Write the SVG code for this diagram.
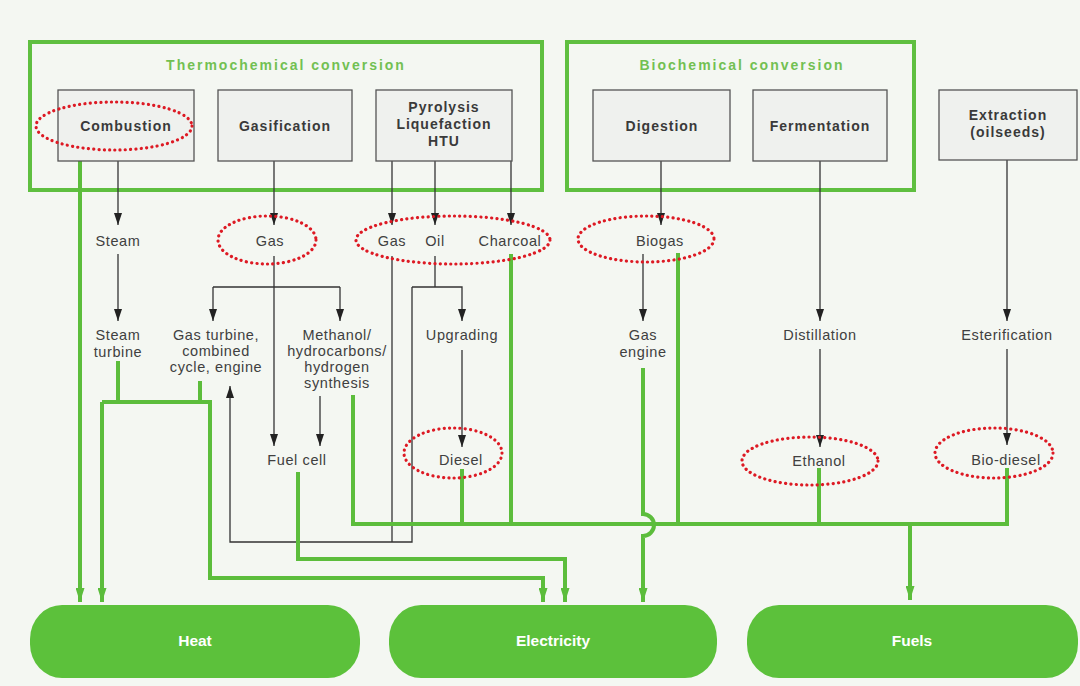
<svg xmlns="http://www.w3.org/2000/svg" width="1080" height="686" viewBox="0 0 1080 686">
<defs>
<marker id="ab" viewBox="0 0 12 8" refX="12" refY="4" markerWidth="12" markerHeight="8" markerUnits="userSpaceOnUse" orient="auto"><path d="M0,0 L12,4 L0,8 z" fill="#222"/></marker>
<marker id="ag" viewBox="0 0 14 9" refX="14" refY="4.5" markerWidth="14" markerHeight="9" markerUnits="userSpaceOnUse" orient="auto"><path d="M0,0 L14,4.5 L0,9 z" fill="#5cbd3c"/></marker>
<style>
.bg{fill:#f4f7f2}
.grp{fill:none;stroke:#5fbf40;stroke-width:4}
.ttl{font-family:"Liberation Sans",Arial,sans-serif;font-size:14px;font-weight:bold;fill:#72c052;letter-spacing:2px;text-anchor:middle}
.box{fill:#eff1ee;stroke:#555;stroke-width:1.3}
.bt{font-family:"Liberation Sans",Arial,sans-serif;font-size:14px;font-weight:bold;fill:#3a3a3a;letter-spacing:1px;text-anchor:middle}
.lb{font-family:"Liberation Sans",Arial,sans-serif;font-size:14.5px;fill:#404040;letter-spacing:0.6px;text-anchor:middle}
.k{fill:none;stroke:#333;stroke-width:1.3}
.ka{fill:none;stroke:#333;stroke-width:1.3;marker-end:url(#ab)}
.g{fill:none;stroke:#5cbd3c;stroke-width:4;stroke-linejoin:miter;stroke-linecap:square}
.ga{fill:none;stroke:#5cbd3c;stroke-width:4;stroke-linejoin:miter;marker-end:url(#ag)}
.ov{fill:none;stroke:#dd1a24;stroke-width:3.2;stroke-dasharray:0.1 5.2;stroke-linecap:round}
.pill{fill:#5cc13b}
.pt{font-family:"Liberation Sans",Arial,sans-serif;font-size:15.5px;font-weight:bold;fill:#ffffff;text-anchor:middle}
</style>
</defs>
<rect class="bg" x="0" y="0" width="1080" height="686"/>

<g id="thermochemical">
<rect class="grp" x="30" y="42" width="512" height="148"/>
<text class="ttl" x="286" y="70">Thermochemical conversion</text>
</g>
<g id="biochemical">
<rect class="grp" x="567" y="42" width="347" height="148"/>
<text class="ttl" x="742" y="70">Biochemical conversion</text>
</g>

<g id="connectors">
<path class="ka" d="M118,161 V225"/>
<path class="ka" d="M118,254 V321"/>
<path class="ka" d="M274,161 V225"/>
<path class="ka" d="M274,256 V446"/>
<path class="k" d="M213,287 H340"/>
<path class="ka" d="M213,287 V321"/>
<path class="ka" d="M340,287 V321"/>
<path class="ka" d="M320,396 V446"/>
<path class="ka" d="M392,161 V225"/>
<path class="ka" d="M435,161 V225"/>
<path class="ka" d="M511,161 V225"/>
<path class="k" d="M392,256 V542"/>
<path class="ka" d="M412,287 V542 H230 V386"/>
<path class="k" d="M435,256 V287"/>
<path class="ka" d="M412,287 H462 V321"/>
<path class="ka" d="M462,350 V447"/>
<path class="ka" d="M661,161 V225"/>
<path class="ka" d="M643,254 V321"/>
<path class="ka" d="M820,161 V321"/>
<path class="ka" d="M820,349 V447"/>
<path class="ka" d="M1007,160 V321"/>
<path class="ka" d="M1007,349 V445"/>
<path class="ga" d="M80,161 V602"/>
<path class="g" d="M118,363 V402"/>
<path class="g" d="M200,383 V402"/>
<path class="ga" d="M102,402 V602"/>
<path class="ga" d="M102,402 H210 V578 H543 V602"/>
<path class="ga" d="M298,472 V559 H565 V602"/>
<path class="g" d="M353,397 V524 H1007 V470"/>
<path class="g" d="M462,471 V524"/>
<path class="g" d="M511,256 V524"/>
<path class="g" d="M678,255 V524"/>
<path class="g" d="M819,470 V524"/>
<path class="ga" d="M910,524 V600"/>
<path class="ga" d="M643,368 V514 A11,11 0 0 1 643,536 V602"/>
</g>

<g id="combustion">
<rect class="box" x="58" y="90" width="136" height="71"/>
<text class="bt" x="126" y="131">Combustion</text>
</g>
<g id="gasification">
<rect class="box" x="218" y="90" width="134" height="71"/>
<text class="bt" x="285" y="131">Gasification</text>
</g>
<g id="pyrolysis">
<rect class="box" x="376" y="90" width="136" height="71"/>
<text class="bt" x="444" y="112">Pyrolysis</text>
<text class="bt" x="444" y="129">Liquefaction</text>
<text class="bt" x="444" y="146">HTU</text>
</g>
<g id="digestion">
<rect class="box" x="593" y="90" width="137" height="71"/>
<text class="bt" x="662" y="131">Digestion</text>
</g>
<g id="fermentation">
<rect class="box" x="753" y="90" width="134" height="71"/>
<text class="bt" x="820" y="131">Fermentation</text>
</g>
<g id="extraction">
<rect class="box" x="939" y="90" width="138" height="70"/>
<text class="bt" x="1008" y="120">Extraction</text>
<text class="bt" x="1008" y="137">(oilseeds)</text>
</g>

<g id="steam"><text class="lb" x="118" y="246">Steam</text></g>
<g id="gas1"><text class="lb" x="270" y="246">Gas</text></g>
<g id="gas2"><text class="lb" x="392" y="246">Gas</text></g>
<g id="oil"><text class="lb" x="435" y="246">Oil</text></g>
<g id="charcoal"><text class="lb" x="510" y="246">Charcoal</text></g>
<g id="biogas"><text class="lb" x="660" y="246">Biogas</text></g>

<g id="steam-turbine"><text class="lb" x="118" y="340">Steam</text><text class="lb" x="118" y="357">turbine</text></g>
<g id="gas-turbine"><text class="lb" x="216" y="340">Gas turbine,</text><text class="lb" x="216" y="356">combined</text><text class="lb" x="216" y="372">cycle, engine</text></g>
<g id="methanol"><text class="lb" x="337" y="340">Methanol/</text><text class="lb" x="337" y="356">hydrocarbons/</text><text class="lb" x="337" y="372">hydrogen</text><text class="lb" x="337" y="388">synthesis</text></g>
<g id="upgrading"><text class="lb" x="462" y="340">Upgrading</text></g>
<g id="gas-engine"><text class="lb" x="643" y="340">Gas</text><text class="lb" x="643" y="357">engine</text></g>
<g id="distillation"><text class="lb" x="820" y="340">Distillation</text></g>
<g id="esterification"><text class="lb" x="1007" y="340">Esterification</text></g>

<g id="fuel-cell"><text class="lb" x="297" y="465">Fuel cell</text></g>
<g id="diesel"><text class="lb" x="461" y="465">Diesel</text></g>
<g id="ethanol"><text class="lb" x="819" y="466">Ethanol</text></g>
<g id="bio-diesel"><text class="lb" x="1006" y="465">Bio-diesel</text></g>

<g id="highlights">
<ellipse class="ov" cx="114" cy="126" rx="78" ry="24"/>
<ellipse class="ov" cx="267" cy="240" rx="49" ry="24"/>
<ellipse class="ov" cx="453" cy="240" rx="97" ry="24"/>
<ellipse class="ov" cx="646" cy="239" rx="68" ry="23"/>
<ellipse class="ov" cx="453" cy="453" rx="49" ry="25"/>
<ellipse class="ov" cx="810" cy="461" rx="68" ry="24"/>
<ellipse class="ov" cx="994" cy="453" rx="59" ry="25"/>
</g>

<g id="heat">
<rect class="pill" x="30" y="605" width="330" height="73" rx="32" ry="34"/>
<text class="pt" x="195" y="646">Heat</text>
</g>
<g id="electricity">
<rect class="pill" x="389" y="605" width="328" height="73" rx="32" ry="34"/>
<text class="pt" x="553" y="646">Electricity</text>
</g>
<g id="fuels">
<rect class="pill" x="747" y="605" width="331" height="73" rx="32" ry="34"/>
<text class="pt" x="912" y="646">Fuels</text>
</g>
</svg>
